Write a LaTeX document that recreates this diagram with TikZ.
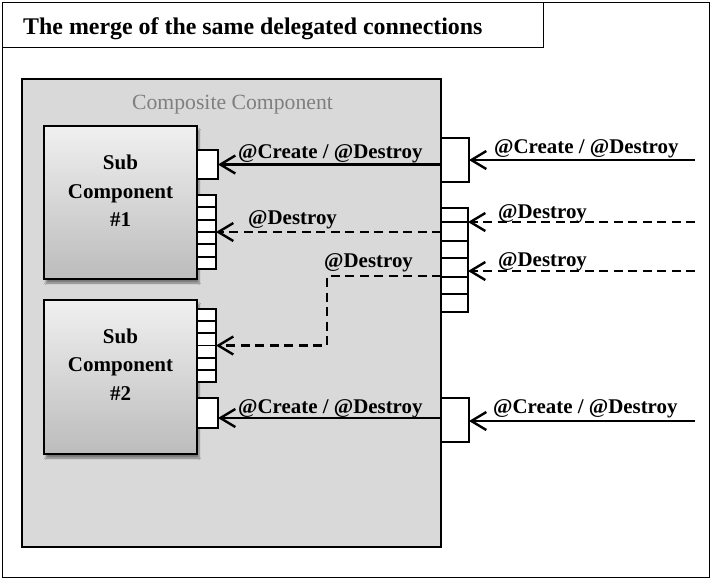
\documentclass[tikz,border=0pt]{standalone}
\usepackage{fontspec}
\setmainfont{Liberation Serif}
\usetikzlibrary{arrows.meta,shadows.blur}
\definecolor{compfill}{HTML}{D9D9D9}
\definecolor{subtop}{HTML}{F0F0F0}
\definecolor{subbot}{HTML}{BCBCBC}
\definecolor{caption}{HTML}{7F7F7F}
\begin{document}
\begin{tikzpicture}[x=1pt,y=-1pt,
  box/.style={draw=black, rectangle, inner sep=0pt, outer sep=0pt, anchor=north west},
  subcomp/.style={box, line width=2.3pt, top color=subtop, bottom color=subbot,
    blur shadow={shadow xshift=2pt, shadow yshift=-4pt, shadow blur steps=6, shadow opacity=45}},
  port/.style={box, fill=white, line width=1.8pt},
  lbl/.style={anchor=base west, inner sep=0pt, font=\bfseries\fontsize{20.9}{24}\selectfont},
  subtext/.style={align=center, inner sep=0pt, font=\bfseries\fontsize{21}{28.5}\selectfont},
  conn/.style={line width=2.4pt, -{Straight Barb[length=15pt,width=18pt,line width=2.4pt]}},
  delegate/.style={conn, dash pattern=on 9pt off 5.5pt},
]
\useasboundingbox (0,0) rectangle (712,579);

% outer frame and title
\node[box, line width=1.8pt, minimum width=707, minimum height=575] (frame) at (2.5,2.5) {};
\node[box, line width=1.2pt, minimum width=541, minimum height=45] (titlebox) at (2.5,2.5) {};
\node[anchor=base west, inner sep=0pt, font=\bfseries\fontsize{23.9}{28}\selectfont] (title) at (23,34)
  {The merge of the same delegated connections};

% composite component
\node[box, line width=2.8pt, fill=compfill, minimum width=419, minimum height=468] (comp) at (22,79) {};
\node[anchor=base, inner sep=0pt, text=caption, font=\fontsize{21.7}{26}\selectfont] (complabel) at (232.5,109)
  {Composite Component};

% sub components
\node[subcomp, minimum width=153, minimum height=153] (sub1) at (44,126) {};
\node[subtext] (sub1text) at (120.5,191) {Sub\\Component\\\#1};
\node[subcomp, minimum width=153, minimum height=154] (sub2) at (44,300) {};
\node[subtext] (sub2text) at (120.5,364.5) {Sub\\Component\\\#2};

% ports of the sub components
\node[port, minimum width=21, minimum height=29] (p1) at (197,150) {};
\node[port, minimum width=19, minimum height=74] (m1) at (197,195) {};
\foreach \k in {1,...,5} \draw[line width=1.8pt] ([yshift=-\k*74/6*1pt]m1.north west) -- ([yshift=-\k*74/6*1pt]m1.north east);
\node[port, minimum width=19, minimum height=73] (m2) at (197,309) {};
\foreach \k in {1,...,5} \draw[line width=1.8pt] ([yshift=-\k*73/6*1pt]m2.north west) -- ([yshift=-\k*73/6*1pt]m2.north east);
\node[port, minimum width=21, minimum height=30] (p2) at (197,398) {};

% ports of the composite component
\node[port, minimum width=28, minimum height=44] (cp1) at (441,138) {};
\node[port, minimum width=27, minimum height=104] (cm) at (441,208) {};
\foreach \yy in {222,241,258,277,294} \draw[line width=1.8pt] (cm.west |- 0,\yy) -- (cm.east |- 0,\yy);
\node[port, minimum width=28, minimum height=44] (cp2) at (441,398) {};

% free ends of the external connections
\coordinate (r1) at (695,160);
\coordinate (r2) at (695,222);
\coordinate (r3) at (695,271);
\coordinate (r4) at (695,421);
\coordinate (bend) at (327,276);

% external connections
\draw[conn] (r1) -- (r1 -| cp1.east);
\draw[delegate] (r2) -- (r2 -| cm.east);
\draw[delegate] (r3) -- (r3 -| cm.east);
\draw[conn] (r4) -- (r4 -| cp2.east);

% internal delegated connections
\draw[conn] (cp1.west |- p1.east) -- (p1.east);
\draw[delegate] (cm.west |- m1.east) -- (m1.east);
\draw[delegate] (cm.west |- bend) -- (bend) |- (m2.east);
\draw[conn] (cp2.west |- 0,418) -- ([yshift=-5pt]p2.east);

% connection labels
\node[lbl] (l1) at (238,158) {@Create / @Destroy};
\node[lbl] (l2) at (494,153) {@Create / @Destroy};
\node[lbl] (l3) at (498,218) {@Destroy};
\node[lbl] (l4) at (498,266) {@Destroy};
\node[lbl] (l5) at (248,224) {@Destroy};
\node[lbl] (l6) at (324,267) {@Destroy};
\node[lbl] (l7) at (238,413) {@Create / @Destroy};
\node[lbl] (l8) at (493,413) {@Create / @Destroy};
\end{tikzpicture}
\end{document}
